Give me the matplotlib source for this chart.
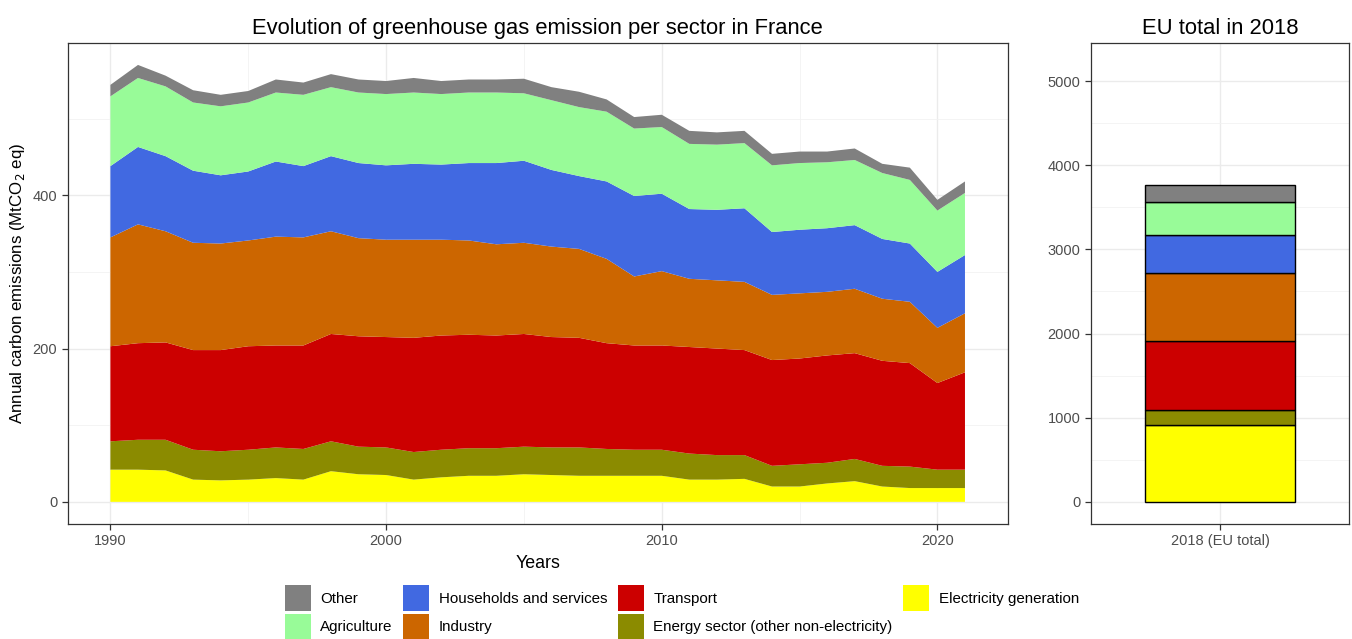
import matplotlib.pyplot as plt
from matplotlib.patches import Patch
from matplotlib.ticker import MultipleLocator

plt.rcParams['font.family'] = ['Liberation Sans', 'DejaVu Sans']

# France, MtCO2 eq per sector
years = list(range(1990, 2022))
electricity = [42, 42, 41, 29, 28, 29, 31, 29, 40, 36, 35, 29, 32, 34, 34, 36,
               35, 34, 34, 34, 34, 29, 29, 30, 20, 20, 24, 27, 20, 18, 18, 18]
energy = [37, 39, 40, 39, 38, 39, 40, 40, 39, 36, 36, 36, 36, 36, 36, 36,
          36, 37, 35, 34, 34, 34, 32, 31, 27, 29, 27, 29, 27, 28, 24, 24]
transport = [124, 126, 127, 130, 132, 135, 133, 135, 140, 144, 144, 149, 149, 148, 147, 147,
             144, 143, 138, 136, 136, 139, 139, 137, 138, 138, 140, 138, 137, 135, 113, 127]
industry = [142, 155, 145, 140, 139, 138, 142, 141, 134, 128, 127, 128, 125, 123, 119, 119,
            118, 116, 110, 90, 97, 89, 89, 89, 85, 85, 83, 84, 81, 80, 72, 77]
households = [93, 101, 98, 94, 89, 90, 98, 93, 98, 98, 97, 99, 98, 101, 106, 107,
              100, 95, 101, 105, 101, 91, 92, 96, 82, 83, 83, 83, 78, 76, 73, 76]
agriculture = [91, 90, 91, 89, 90, 90, 90, 93, 90, 92, 93, 93, 92, 92, 92, 88,
               91, 90, 91, 88, 87, 85, 85, 85, 87, 87, 86, 85, 86, 83, 80, 81]
other = [15, 17, 14, 16, 15, 15, 17, 16, 17, 17, 17, 19, 17, 17, 17, 19,
         17, 20, 16, 15, 16, 17, 16, 16, 15, 15, 14, 15, 12, 16, 14, 15]

# EU total 2018, same sector order (bottom to top)
eu_label = '2018 (EU total)'
eu_values = [920, 172, 820, 807, 450, 389, 205]

sectors = ['Electricity generation', 'Energy sector (other non-electricity)', 'Transport',
           'Industry', 'Households and services', 'Agriculture', 'Other']
colors = ['#FFFF00', '#8B8B00', '#CC0000', '#CC6600', '#4169E1', '#98FB98', '#808080']

fig = plt.figure(figsize=(13.52, 6.39), dpi=100)
W, H = 1352, 639
ax = fig.add_axes([67.7 / W, 1 - 523.7 / H, 940 / W, 481 / H])
ax2 = fig.add_axes([1091 / W, 1 - 523.7 / H, 258 / W, 481 / H])

tick_col = '#4D4D4D'
for a in (ax, ax2):
    a.set_axisbelow(True)
    a.grid(which='major', color='#EBEBEB', lw=1.0)
    a.grid(which='minor', color='#F2F2F2', lw=0.6)
    for s in a.spines.values():
        s.set_color('#333333')
        s.set_linewidth(0.9)
    a.tick_params(which='major', length=4, width=0.9, color='#333333',
                  labelsize=10.5, labelcolor=tick_col)
    a.tick_params(which='minor', length=0)

ax.stackplot(years, electricity, energy, transport, industry, households, agriculture, other,
             colors=colors, lw=0)
ax.set_xlim(1988.45, 2022.55)
ax.set_ylim(-28.5, 599)
ax.xaxis.set_major_locator(MultipleLocator(10))
ax.xaxis.set_minor_locator(MultipleLocator(5))
ax.yaxis.set_major_locator(MultipleLocator(200))
ax.yaxis.set_minor_locator(MultipleLocator(100))
ax.set_xlabel('Years', fontsize=12.8, labelpad=5)
ax.set_ylabel('Annual carbon emissions (MtCO$_2$ eq)', fontsize=12.2, labelpad=4)
ax.set_title('Evolution of greenhouse gas emission per sector in France', fontsize=15.8, pad=6)

bottom = 0
for v, c in zip(eu_values, colors):
    ax2.bar([eu_label], [v], bottom=bottom, color=c, edgecolor='black', lw=1.0, width=0.7)
    bottom += v
ax2.set_xlim(-0.6, 0.6)
ax2.set_ylim(-258, 5455)
ax2.yaxis.set_major_locator(MultipleLocator(1000))
ax2.yaxis.set_minor_locator(MultipleLocator(500))
ax2.set_title('EU total in 2018', fontsize=15.8, pad=6)

order = [6, 5, 4, 3, 2, 1, 0]
handles = [Patch(facecolor=colors[i], edgecolor='none') for i in order]
labels = [sectors[i] for i in order]
fig.legend(handles, labels, ncol=4, loc='upper left', bbox_to_anchor=(285 / W, 1 - 585 / H),
           frameon=False, fontsize=10.9, handlelength=1.72, handleheight=2.265,
           handletextpad=0.62, columnspacing=0.7, labelspacing=0.18, borderpad=0,
           borderaxespad=0)

fig.savefig('out.png', dpi=100)
